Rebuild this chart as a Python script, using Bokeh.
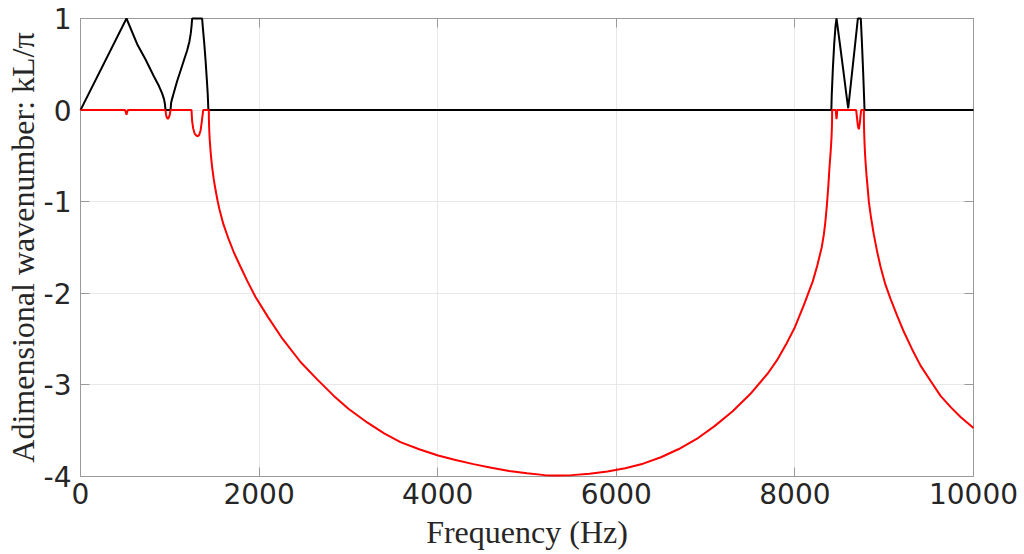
from bokeh.plotting import figure
from bokeh.models import LinearAxis, FixedTicker, Range1d, Grid
from bokeh.embed import file_html
from bokeh.resources import INLINE

# ---- data ----
freq_real = [0, 515, 635, 730, 821, 880, 915, 935, 945, 952,
             1008, 1015, 1025, 1045, 1080, 1120, 1160, 1194, 1220, 1235, 1244, 1250,
             1362, 1370, 1385, 1400, 1415, 1425, 1432,
             8408, 8412, 8425, 8440, 8455, 8466,
             8500, 8540, 8575, 8597,
             8630, 8670, 8705, 8738,
             8750, 8765, 8780, 10000]
k_real = [0, 1, 0.72, 0.55, 0.37, 0.26, 0.18, 0.12, 0.07, 0,
          0, 0.08, 0.12, 0.19, 0.31, 0.43, 0.55, 0.65, 0.75, 0.84, 0.92, 1,
          1, 0.9, 0.74, 0.55, 0.33, 0.17, 0,
          0, 0.15, 0.45, 0.72, 0.92, 1,
          0.75, 0.45, 0.18, 0.02,
          0.32, 0.68, 1, 1,
          0.75, 0.4, 0, 0]

freq_imag = [0, 500, 510, 515, 520, 530,
             952, 958, 966, 978, 990, 1000, 1008,
             1243, 1250, 1262, 1280, 1300, 1314, 1330, 1345, 1355, 1365, 1374,
             1437, 1438, 1440, 1443, 1447, 1455, 1465, 1475, 1493, 1512, 1535, 1555,
             1600, 1661, 1720, 1792, 1870, 1960,
             2100, 2250, 2464, 2650, 2837, 3000, 3210, 3400, 3583, 3800, 4005,
             4200, 4400, 4600, 4800, 5000, 5200, 5320,
             5500, 5700, 5900, 6100, 6300, 6500, 6700, 6900, 7100, 7300, 7500,
             7700, 7800, 7900, 8000, 8100, 8200, 8250, 8300, 8324, 8340, 8358,
             8375, 8387, 8400, 8410, 8414, 8416, 8417,
             8458, 8462, 8466, 8470, 8474,
             8686, 8695, 8705, 8716, 8726, 8735, 8742,
             8772, 8773, 8775, 8779, 8785, 8792, 8802, 8814, 8828, 8852, 8884,
             8922, 8959, 9012, 9071, 9147, 9220, 9312, 9407, 9522, 9631, 9742, 9855, 10000]
k_imag = [0, 0, -0.03, -0.05, -0.03, 0,
          0, -0.05, -0.08, -0.095, -0.08, -0.05, 0,
          0, -0.12, -0.2, -0.26, -0.28, -0.285, -0.27, -0.22, -0.15, -0.07, 0,
          0, -0.10, -0.17, -0.25, -0.32, -0.43, -0.54, -0.63, -0.76, -0.87, -0.99, -1.08,
          -1.245, -1.415, -1.56, -1.71, -1.87, -2.04,
          -2.26, -2.48, -2.75, -2.94, -3.12, -3.26, -3.41, -3.53, -3.625, -3.705, -3.77,
          -3.82, -3.865, -3.905, -3.94, -3.965, -3.985, -3.99,
          -3.985, -3.97, -3.945, -3.91, -3.86, -3.79, -3.70, -3.59, -3.45, -3.29, -3.10,
          -2.87, -2.73, -2.56, -2.37, -2.13, -1.87, -1.70, -1.50, -1.36, -1.23, -1.04,
          -0.82, -0.63, -0.46, -0.30, -0.20, -0.12, 0,
          0, -0.06, -0.10, -0.06, 0,
          0, -0.08, -0.17, -0.21, -0.15, -0.06, 0,
          0, -0.13, -0.22, -0.34, -0.47, -0.58, -0.71, -0.84, -1.0, -1.17, -1.36,
          -1.55, -1.71, -1.90, -2.06, -2.25, -2.42, -2.61, -2.79, -2.96, -3.12, -3.24, -3.35, -3.47]

x_ticks = [0, 2000, 4000, 6000, 8000, 10000]
x_tick_labels = ["0", "2000", "4000", "6000", "8000", "10000"]
y_ticks = [-4, -3, -2, -1, 0, 1]
y_tick_labels = ["-4", "-3", "-2", "-1", "0", "1"]

x_label = "Frequency (Hz)"
y_label = "Adimensional wavenumber: kL/\u03c0"

# ---- figure ----
W, H = 1024, 554
FL, FT, FW, FH = 80, 18, 893, 458
p = figure(width=W, height=H, output_backend="svg", toolbar_location=None,
           x_range=Range1d(0, 10000), y_range=Range1d(-4, 1),
           x_axis_location=None, y_axis_location=None)
p.min_border_left = FL
p.min_border_right = W - FL - FW
p.min_border_top = FT
p.min_border_bottom = H - FT - FH
p.background_fill_color = "white"
p.border_fill_color = "white"
p.outline_line_color = "#9a9a9a"
p.outline_line_width = 1

frame_col = "#9a9a9a"
tick_font = "DejaVu Sans"
tick_size = "28px"
lab_font = "Liberation Serif"
lab_size = "32px"
text_col = "#262626"


def make_axis(ticks, labels, show_labels):
    ax = LinearAxis(ticker=FixedTicker(ticks=ticks))
    ax.axis_line_color = frame_col
    ax.major_tick_line_color = frame_col
    ax.major_tick_in = 9
    ax.major_tick_out = 0
    ax.minor_tick_line_color = None
    if show_labels:
        ax.major_label_overrides = {t: l for t, l in zip(ticks, labels)}
        ax.major_label_text_font = tick_font
        ax.major_label_text_font_size = tick_size
        ax.major_label_text_color = text_col
    else:
        ax.major_label_text_font_size = "0px"
        ax.major_label_text_color = None
        ax.major_label_standoff = 0
    return ax


xb = make_axis(x_ticks, x_tick_labels, True)
xb.major_label_standoff = 6
xb.axis_label = x_label
xb.axis_label_standoff = 7
xb.axis_label_text_font = lab_font
xb.axis_label_text_font_size = lab_size
xb.axis_label_text_font_style = "normal"
xb.axis_label_text_color = text_col

yl = make_axis(y_ticks, y_tick_labels, True)
yl.major_label_standoff = 9
yl.axis_label = y_label
yl.axis_label_standoff = 0
yl.axis_label_text_font = lab_font
yl.axis_label_text_font_size = lab_size
yl.axis_label_text_font_style = "normal"
yl.axis_label_text_color = text_col

p.add_layout(xb, "below")
p.add_layout(yl, "left")
p.add_layout(make_axis(x_ticks, x_tick_labels, False), "above")
p.add_layout(make_axis(y_ticks, y_tick_labels, False), "right")

p.add_layout(Grid(dimension=0, ticker=FixedTicker(ticks=x_ticks), grid_line_color="#e8e8e8"))
p.add_layout(Grid(dimension=1, ticker=FixedTicker(ticks=y_ticks), grid_line_color="#e8e8e8"))

r1 = p.line(freq_real, k_real, line_color="black", line_width=2)
r2 = p.line(freq_imag, k_imag, line_color="red", line_width=2)
r1.level = "overlay"
r2.level = "overlay"

open("out.html", "w").write(file_html(p, INLINE))
